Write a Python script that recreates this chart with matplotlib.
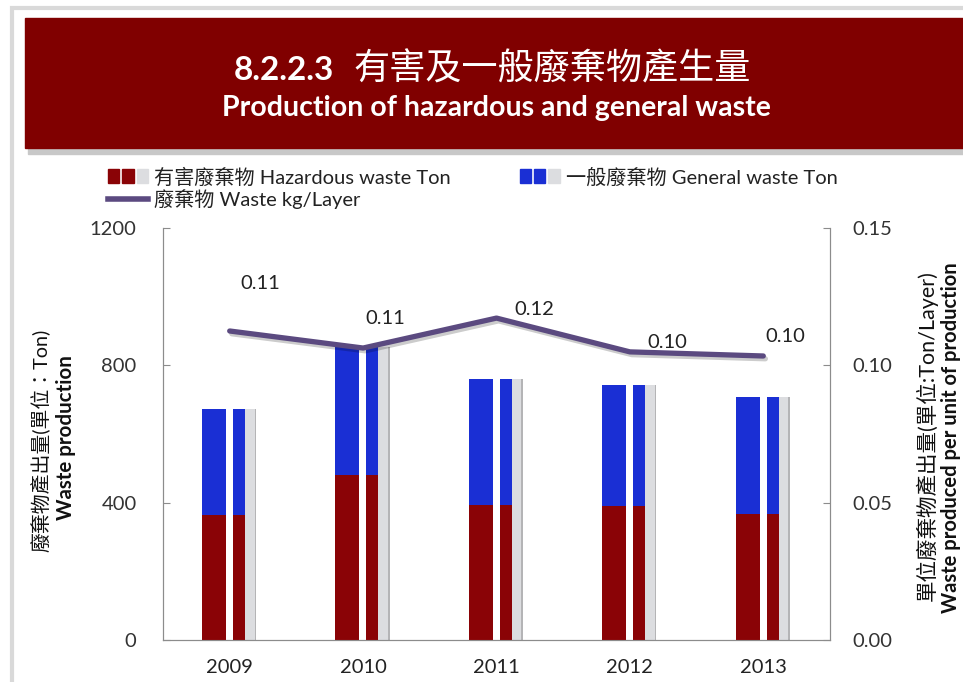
import numpy as np
import matplotlib.pyplot as plt
import matplotlib.patheffects as pe
from matplotlib.patches import Rectangle, Patch
from matplotlib.lines import Line2D
from matplotlib.legend_handler import HandlerTuple

plt.rcParams['font.family'] = ['Lato', 'Noto Sans CJK TC', 'DejaVu Sans']

years = ['2009', '2010', '2011', '2012', '2013']
hazardous = [364, 480, 393, 390, 367]      # Ton
general = [309, 373, 367, 353, 341]        # Ton
waste_per_layer = [0.1125, 0.1063, 0.1172, 0.1049, 0.1034]
waste_labels = ['0.11', '0.11', '0.12', '0.10', '0.10']

RED = '#8a0306'
BLUE = '#1a2fd4'
PURPLE = '#5b4a80'
GRAY = '#dcdde0'
FS = 14.5

fig = plt.figure(figsize=(9.63, 6.82), dpi=100)

# frame + header band
fig.patches.append(Rectangle((12/963, -0.1), 1, 1.1 - 8/682, transform=fig.transFigure,
                             fill=False, edgecolor='#d9d9d9', lw=3))
fig.patches.append(Rectangle((28/963, 1 - 154/682), 1, 130/682, transform=fig.transFigure,
                             color='#c8c8c8', zorder=0))
fig.patches.append(Rectangle((25/963, 1 - 148/682), 1, 130/682, transform=fig.transFigure,
                             color='#800000', zorder=1))
fig.text(334/963, 1 - 70/682, '8.2.2.3', color='white',
         fontsize=24, fontweight='bold', ha='right', va='center')
fig.text(353/963, 1 - 68/682, '有害及一般廢棄物產生量', color='white',
         fontsize=26, ha='left', va='center')
fig.text(496/963, 1 - 108/682, 'Production of hazardous and general waste', color='white',
         fontsize=20.5, fontweight='bold', ha='center', va='center')

ax = fig.add_axes([163/963, 1 - 640/682, 667/963, 412/682])
x = np.arange(len(years))
tot = np.array(hazardous) + np.array(general)

# each bar: wide part, white gap, narrow part, gray shadow strip
ax.bar(x - 0.118, hazardous, 0.18, color=RED, zorder=3)
ax.bar(x - 0.118, general, 0.18, bottom=hazardous, color=BLUE, zorder=3)
ax.bar(x + 0.07, hazardous, 0.09, color=RED, zorder=3)
ax.bar(x + 0.07, general, 0.09, bottom=hazardous, color=BLUE, zorder=3)
ax.bar(x + 0.156, tot, 0.082, color=GRAY, zorder=2)
ax.bar(x + 0.192, tot, 0.012, color='#b4b4b6', zorder=2)

ax.set_xlim(-0.5, 4.5)
ax.set_ylim(0, 1200)
ax.set_yticks([0, 400, 800, 1200])
ax.set_xticks(x)
ax.set_xticklabels(years)
ax.spines['top'].set_visible(False)
for s in ['left', 'right', 'bottom']:
    ax.spines[s].set_color('#8c8c8c')
ax.tick_params(axis='y', colors='#8c8c8c', labelcolor='#333333', labelsize=FS,
               length=5, direction='in', pad=19)
ax.tick_params(axis='x', length=0, labelsize=FS, labelcolor='#222222', pad=14)

ax2 = ax.twinx()
ax2.plot(x, waste_per_layer, color=PURPLE, lw=3.8, solid_capstyle='round', zorder=5,
         path_effects=[pe.SimpleLineShadow(offset=(1.5, -2), alpha=0.2), pe.Normal()])
lab_off = [(22, 34), (16, 21.5), (27, 6.5), (27, 7), (16, 14)]
for i, t in enumerate(waste_labels):
    ax2.annotate(t, (x[i], waste_per_layer[i]), xytext=lab_off[i], textcoords='offset points',
                 ha='center', va='center', fontsize=FS, color='#222222')
ax2.set_ylim(0, 0.15)
ax2.set_yticks([0, 0.05, 0.10, 0.15])
ax2.set_yticklabels(['0.00', '0.05', '0.10', '0.15'])
ax2.spines['top'].set_visible(False)
for s in ['left', 'right', 'bottom']:
    ax2.spines[s].set_color('#8c8c8c')
ax2.tick_params(axis='y', colors='#8c8c8c', labelcolor='#333333', labelsize=FS,
                length=5, direction='in', pad=16)

# axis titles
fig.text(40/963, 1 - 440/682, '廢棄物產出量(單位：Ton)', rotation=90, ha='center', va='center',
         fontsize=14.3, color='#111111')
fig.text(66/963, 1 - 438/682, 'Waste production', rotation=90, ha='center', va='center',
         fontsize=14.8, fontweight='bold', color='#111111')
fig.text(927/963, 1 - 436/682, '單位廢棄物產出量(單位:Ton/Layer)', rotation=90, ha='center',
         va='center', fontsize=15.5, color='#111111')
fig.text(951/963, 1 - 438/682, 'Waste produced per unit of production', rotation=90,
         ha='center', va='center', fontsize=14.5, fontweight='bold', color='#111111')

# legend (column-major order -> row 1: red, blue; row 2: line)
h_red = (Patch(color=RED), Patch(color=RED), Patch(color=GRAY))
h_blue = (Patch(color=BLUE), Patch(color=BLUE), Patch(color=GRAY))
h_line = Line2D([], [], color=PURPLE, lw=4)
leg = fig.legend([h_red, h_line, h_blue],
                 ['有害廢棄物 Hazardous waste Ton', '廢棄物 Waste kg/Layer',
                  '一般廢棄物 General waste Ton'],
                 handler_map={tuple: HandlerTuple(ndivide=None, pad=0.15)},
                 loc='upper left', bbox_to_anchor=(108/963, 1 - 167/682), ncol=2,
                 frameon=False, fontsize=FS, handlelength=2.0, handletextpad=0.3,
                 columnspacing=3.4, labelspacing=0.15, borderaxespad=0, borderpad=0)
for t in leg.get_texts():
    t.set_color('#222222')

fig.savefig('out.png', dpi=100)
